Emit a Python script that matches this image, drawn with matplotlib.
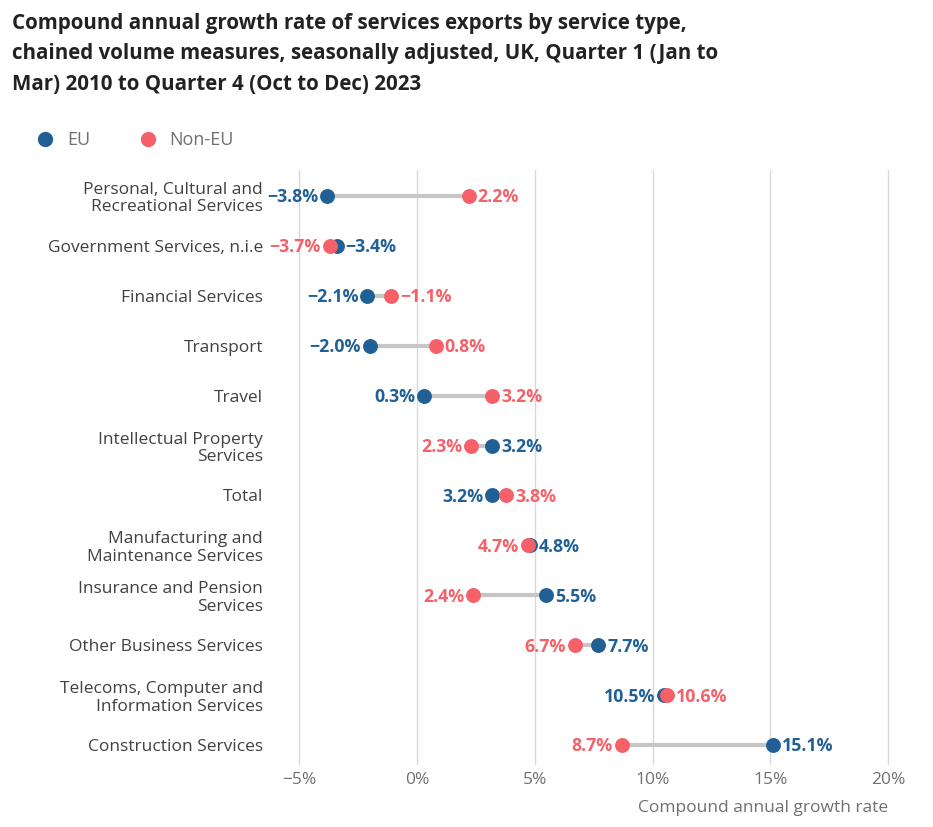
import matplotlib
matplotlib.use("Agg")
import matplotlib.pyplot as plt
from matplotlib.lines import Line2D

plt.rcParams['font.family'] = ['Open Sans', 'DejaVu Sans']

categories = [
    "Personal, Cultural and\nRecreational Services",
    "Government Services, n.i.e",
    "Financial Services",
    "Transport",
    "Travel",
    "Intellectual Property\nServices",
    "Total",
    "Manufacturing and\nMaintenance Services",
    "Insurance and Pension\nServices",
    "Other Business Services",
    "Telecoms, Computer and\nInformation Services",
    "Construction Services",
]
eu = [-3.8, -3.4, -2.1, -2.0, 0.3, 3.2, 3.2, 4.8, 5.5, 7.7, 10.5, 15.1]
non_eu = [2.2, -3.7, -1.1, 0.8, 3.2, 2.3, 3.8, 4.7, 2.4, 6.7, 10.6, 8.7]
xticks = [-5, 0, 5, 10, 15, 20]
xtick_labels = ["\u22125%", "0%", "5%", "10%", "15%", "20%"]

EU_C = "#206095"
NON_C = "#F66068"

fig = plt.figure(figsize=(9.33, 8.27), dpi=100)
ax = fig.add_axes([270/933, 1-765/827, 630/933, (765-170)/827])

ys = list(range(len(categories)))
for y, a, b in zip(ys, eu, non_eu):
    ax.plot([a, b], [y, y], color="#c6c6c6", lw=3, zorder=2, solid_capstyle='butt')

ax.scatter(eu, ys, s=115, color=EU_C, zorder=3, label="EU", linewidths=0)
ax.scatter(non_eu, ys, s=115, color=NON_C, zorder=4, label="Non-EU", linewidths=0)

def fmt(v):
    s = f"{abs(v):.1f}%"
    return ("\u2212" + s) if v < 0 else s

for y, a, b in zip(ys, eu, non_eu):
    if a <= b:
        left, lc, right, rc = a, EU_C, b, NON_C
    else:
        left, lc, right, rc = b, NON_C, a, EU_C
    ax.annotate(fmt(left), (left, y), xytext=(-6.5, -1), textcoords="offset points",
                ha="right", va="center", color=lc, fontsize=12.8, fontweight="bold")
    ax.annotate(fmt(right), (right, y), xytext=(6.5, -1), textcoords="offset points",
                ha="left", va="center", color=rc, fontsize=12.8, fontweight="bold")

ax.set_xlim(-6.23, 20.5)
ax.set_ylim(11.4, -0.52)
ax.set_xticks(xticks)
ax.set_xticklabels(xtick_labels, fontsize=12.5, color="#707070")
ax.set_yticks(ys)
ax.set_yticklabels(categories, fontsize=12.5, color="#414042", linespacing=1.12)
ax.tick_params(axis='both', length=0)
ax.tick_params(axis='y', pad=5)
ax.tick_params(axis='x', pad=5)
ax.grid(axis='x', color="#d9d9d9", lw=1, zorder=0)
ax.set_axisbelow(True)
for sp in ax.spines.values():
    sp.set_visible(False)

fig.text(888/933, 1-808/827, "Compound annual growth rate", ha="right", va="center",
         fontsize=12.5, color="#707070")

fig.text(12/933, 1-54/827,
         "Compound annual growth rate of services exports by service type,\n"
         "chained volume measures, seasonally adjusted, UK, Quarter 1 (Jan to\n"
         "Mar) 2010 to Quarter 4 (Oct to Dec) 2023",
         ha="left", va="center", fontsize=14.8, fontweight="bold", color="#222222",
         linespacing=1.62)

handles = [Line2D([], [], marker='o', ls='', color=EU_C, markersize=11, markeredgewidth=0),
           Line2D([], [], marker='o', ls='', color=NON_C, markersize=11, markeredgewidth=0)]
fig.legend(handles, ["EU", "Non-EU"], loc="center left", bbox_to_anchor=(20/933, 1-140/827),
           ncol=2, frameon=False, fontsize=13, labelcolor="#707070", handletextpad=0.7,
           columnspacing=2.7, handlelength=1.0)

fig.savefig("out.png", dpi=100)
